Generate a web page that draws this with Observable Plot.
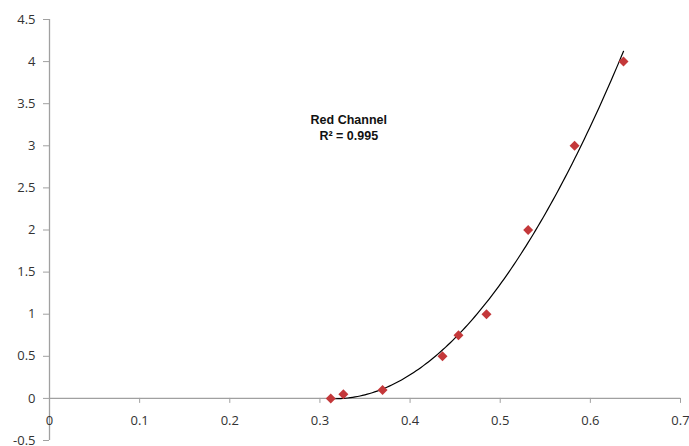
<!DOCTYPE html>
<html><head><meta charset="utf-8">
<script src="https://cdn.jsdelivr.net/npm/d3@7"></script>
<script src="https://cdn.jsdelivr.net/npm/@observablehq/plot@0.6"></script>
<style>body{margin:0;background:#fff}</style>
</head><body><div id="chart"></div>
<script>
const xValues = [0.312, 0.326, 0.3695, 0.436, 0.4537, 0.4848, 0.531, 0.5825, 0.6368];
const yValues = [0, 0.05, 0.1, 0.5, 0.75, 1, 2, 3, 4];
const xTicks = [0, 0.1, 0.2, 0.3, 0.4, 0.5, 0.6, 0.7];
const yTicks = [-0.5, 0, 0.5, 1, 1.5, 2, 2.5, 3, 3.5, 4, 4.5];
const seriesName = "Red Channel";
const rSquaredLabel = "R² = 0.995";

const points = xValues.map((x, i) => ({x, y: yValues[i]}));

// Order-2 polynomial least-squares trendline computed from the data
function polyfit2(xs, ys) {
  const S = [0,0,0,0,0], T = [0,0,0];
  xs.forEach((x, i) => {
    let p = 1;
    for (let k = 0; k < 5; k++) { S[k] += p; if (k < 3) T[k] += p * ys[i]; p *= x; }
  });
  const A = [[S[0],S[1],S[2],T[0]],[S[1],S[2],S[3],T[1]],[S[2],S[3],S[4],T[2]]];
  for (let c = 0; c < 3; c++) {
    for (let r = c + 1; r < 3; r++) {
      const f = A[r][c] / A[c][c];
      for (let k = c; k < 4; k++) A[r][k] -= f * A[c][k];
    }
  }
  const sol = [0,0,0];
  for (let r = 2; r >= 0; r--) {
    let s = A[r][3];
    for (let k = r + 1; k < 3; k++) s -= A[r][k] * sol[k];
    sol[r] = s / A[r][r];
  }
  return sol;
}
const [c0, c1, c2] = polyfit2(xValues, yValues);
const xmin = d3.min(xValues), xmax = d3.max(xValues);
const trend = d3.range(0, 121).map(i => {
  const x = xmin + (xmax - xmin) * i / 120;
  return {x, y: c0 + c1 * x + c2 * x * x};
});

const gray = "#a0a0a0";
const textColor = "#333";

const chart = Plot.plot({
  width: 689,
  height: 446,
  marginLeft: 49,
  marginRight: 9,
  marginTop: 19,
  marginBottom: 6,
  style: {fontFamily: "'Open Sans', sans-serif", fontSize: "13px", color: textColor, background: "#fff"},
  x: {domain: [0, 0.7], axis: null},
  y: {domain: [-0.5, 4.5], axis: null},
  marks: [
    Plot.ruleX([0], {stroke: gray, strokeWidth: 1.3}),
    Plot.ruleY([0], {stroke: gray, strokeWidth: 1.3}),
    // y-axis ticks and labels
    Plot.ruleY(yTicks, {y: d => d, x1: 0, x2: 0, insetLeft: -6, stroke: gray}),
    Plot.text(yTicks, {x: 0, y: d => d, text: d => String(d), textAnchor: "end", dx: -14, fill: textColor, fontSize: 13}),
    // x-axis ticks and labels (axis crosses at y = 0)
    Plot.ruleX(xTicks, {x: d => d, y1: 0, y2: 0, insetBottom: -5, stroke: gray}),
    Plot.text(xTicks, {x: d => d, y: 0, text: d => String(d), dy: 22, fill: textColor, fontSize: 13}),
    Plot.line(trend, {x: "x", y: "y", stroke: "#000", strokeWidth: 1.2}),
    Plot.dot(points, {x: "x", y: "y", symbol: "diamond2", r: 4.5, fill: "#c4383a", stroke: "none"}),
    Plot.text([seriesName + "\n" + rSquaredLabel], {x: 0.332, y: 3.22, text: d => d, fontWeight: "bold", fontFamily: "'Liberation Sans', Arial, sans-serif", fontSize: 12.5, lineHeight: 1.28, fill: "#111"})
  ]
});
document.getElementById("chart").appendChild(chart);
</script>
</body></html>
